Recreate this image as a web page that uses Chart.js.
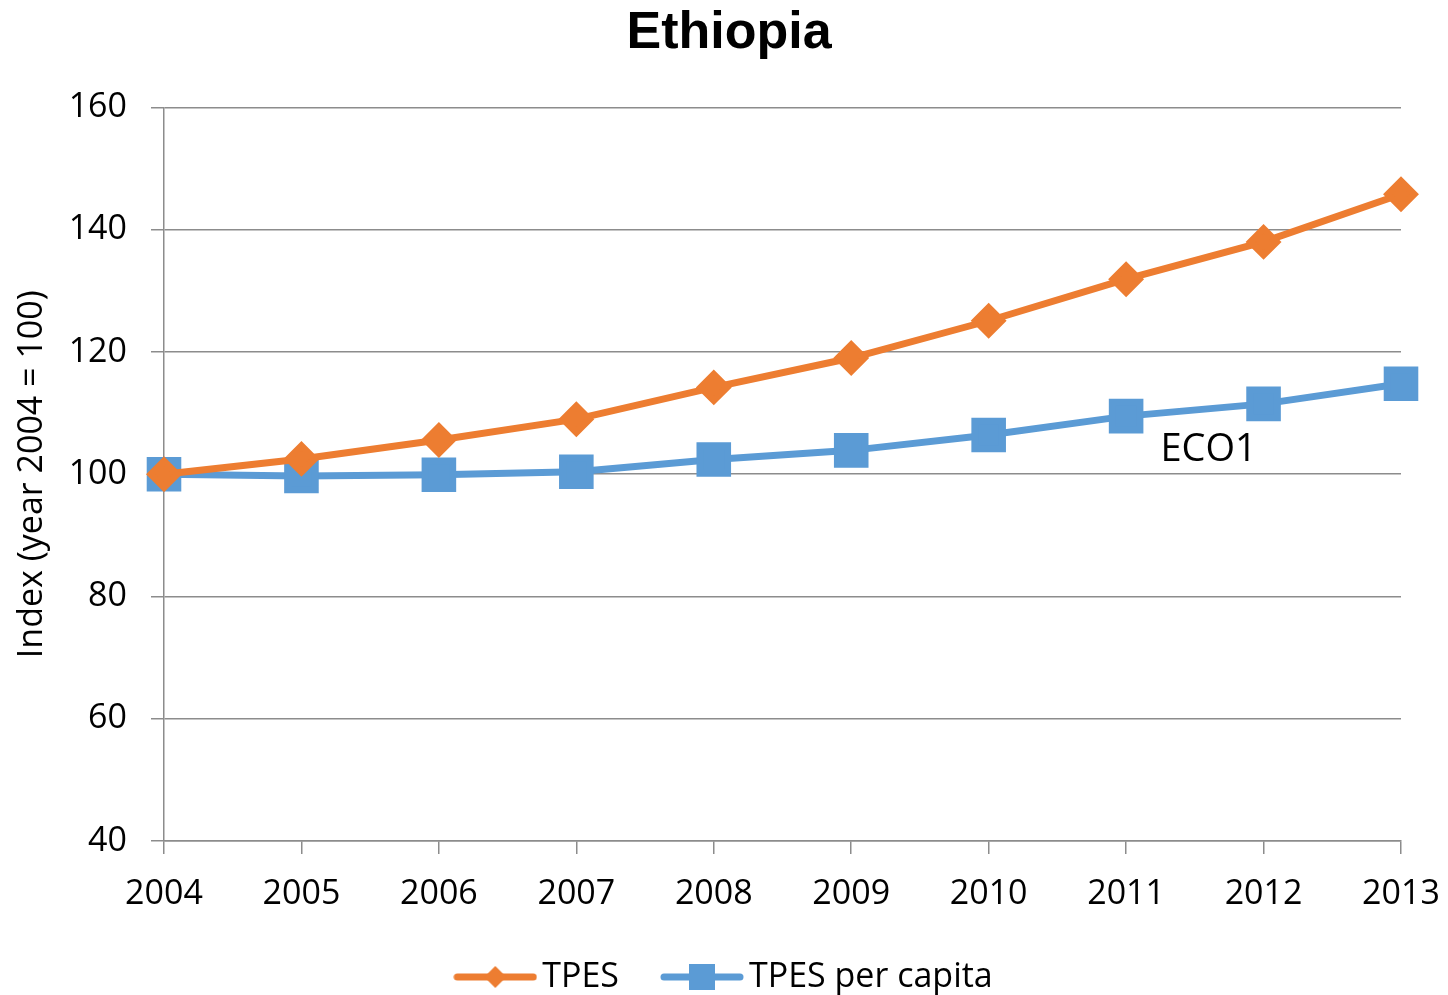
<!DOCTYPE html>
<html>
<head>
<meta charset="utf-8">
<script src="https://cdn.jsdelivr.net/npm/chart.js@4.4.1/dist/chart.umd.min.js"></script>
<style>
html, body { margin: 0; padding: 0; background: #fff; }
</style>
</head>
<body>
<canvas id="line-chart" width="1448" height="995"></canvas>
<script>
const YEARS = ['2004', '2005', '2006', '2007', '2008', '2009', '2010', '2011', '2012', '2013'];
const TPES = [100, 102.5, 105.6, 109.0, 114.2, 119.0, 125.1, 131.9, 138.0, 145.8];
const TPES_PER_CAPITA = [100, 99.7, 99.9, 100.4, 102.4, 103.9, 106.4, 109.5, 111.5, 114.8];
const Y_MIN = 40;
const Y_MAX = 160;
const Y_STEP = 20;
const NOTE_TEXT = 'ECO1';
const NOTE_AT = [7.6, 103.9];   // category index, index value

const ORANGE = '#ED7D31';
const BLUE = '#5B9BD5';
const GRID = '#8c8c8c';
const FONT = "'Open Sans', 'Noto Sans', sans-serif";

// legend swatch: line with the marker in the middle
function legendSwatch(color, marker){
    const c = document.createElement('canvas');
    c.width = 84;
    c.height = 30;
    const g = c.getContext('2d');
    g.strokeStyle = color;
    g.lineWidth = 7;
    g.lineCap = 'round';
    g.beginPath();
    g.moveTo(4, 15);
    g.lineTo(80, 15);
    g.stroke();
    g.fillStyle = color;
    if (marker === 'diamond') {
        g.beginPath();
        g.moveTo(42, 4);
        g.lineTo(53, 15);
        g.lineTo(42, 26);
        g.lineTo(31, 15);
        g.closePath();
        g.fill();
    } else {
        g.fillRect(29, 2, 26, 26);
    }
    return c;
}

const notePlugin = {
    id: 'note',
    afterDatasetsDraw(chart){
        const ctx = chart.ctx;
        const x = chart.scales.x.getPixelForValue(NOTE_AT[0]);
        const y = chart.scales.y.getPixelForValue(NOTE_AT[1]);
        ctx.save();
        ctx.font = '38px ' + FONT;
        ctx.fillStyle = '#000';
        ctx.textAlign = 'center';
        ctx.textBaseline = 'middle';
        ctx.fillText(NOTE_TEXT, x, y);
        ctx.restore();
    }
};

const swatches = [legendSwatch(ORANGE, 'diamond'), legendSwatch(BLUE, 'square')];

const ctx = document.querySelector('#line-chart').getContext('2d');
const myChart = new Chart(ctx, {
    type: 'line',
    data: {
        labels: YEARS,
        datasets: [{
            label: 'TPES',
            data: TPES,
            borderColor: ORANGE,
            backgroundColor: ORANGE,
            borderWidth: 7,
            pointStyle: 'rectRot',
            pointRadius: 13,
            pointHoverRadius: 13,
            tension: 0,
            clip: false
        }, {
            label: 'TPES per capita',
            data: TPES_PER_CAPITA,
            borderColor: BLUE,
            backgroundColor: BLUE,
            borderWidth: 7,
            pointStyle: 'rect',
            pointRadius: 19.5,
            pointHoverRadius: 19.5,
            tension: 0,
            clip: false
        }]
    },
    options: {
        responsive: false,
        animation: false,
        events: [],
        layout: {
            padding: { left: 18, right: 8, top: 0, bottom: -9 }
        },
        plugins: {
            title: {
                display: true,
                text: 'Ethiopia',
                color: '#000',
                font: { family: "'Liberation Sans', Arial, sans-serif", size: 52, weight: 'bold' },
                padding: { top: 2, bottom: 43 }
            },
            legend: {
                position: 'bottom',
                labels: {
                    color: '#000',
                    font: { family: FONT, size: 34 },
                    usePointStyle: true,
                    pointStyleWidth: 60,
                    padding: 0,
                    generateLabels(chart){
                        const sets = chart.data.datasets;
                        return sets.map((ds, i) => ({
                            // spaces keep the gap between the two entries
                            text: i < sets.length - 1 ? ds.label + '      ' : ds.label,
                            pointStyle: swatches[i],
                            fillStyle: ds.borderColor,
                            strokeStyle: ds.borderColor,
                            lineWidth: 0,
                            fontColor: '#000',
                            hidden: false,
                            datasetIndex: i
                        }));
                    }
                }
            },
            tooltip: { enabled: false }
        },
        scales: {
            x: {
                offset: false,
                afterFit(scale){
                    scale.height = 119;
                    scale.paddingRight = 47;
                },
                grid: {
                    drawOnChartArea: false,
                    drawTicks: true,
                    tickLength: 13,
                    color: GRID,
                    lineWidth: 1.5
                },
                border: { display: true, color: GRID, width: 1.5 },
                ticks: {
                    color: '#000',
                    font: { family: FONT, size: 34 },
                    padding: 20,
                    maxRotation: 0,
                    autoSkip: false
                }
            },
            y: {
                min: Y_MIN,
                max: Y_MAX,
                afterFit(scale){ scale.width = 146; },
                title: {
                    display: true,
                    text: 'Index (year 2004 = 100)',
                    color: '#000',
                    font: { family: FONT, size: 34 },
                    padding: { top: -6, bottom: 0 }
                },
                grid: {
                    color: GRID,
                    lineWidth: 1.5,
                    tickLength: 13
                },
                border: { display: true, color: GRID, width: 1.5 },
                ticks: {
                    stepSize: Y_STEP,
                    color: '#000',
                    font: { family: FONT, size: 34 },
                    padding: 24
                }
            }
        }
    },
    plugins: [notePlugin]
});
</script>
</body>
</html>
